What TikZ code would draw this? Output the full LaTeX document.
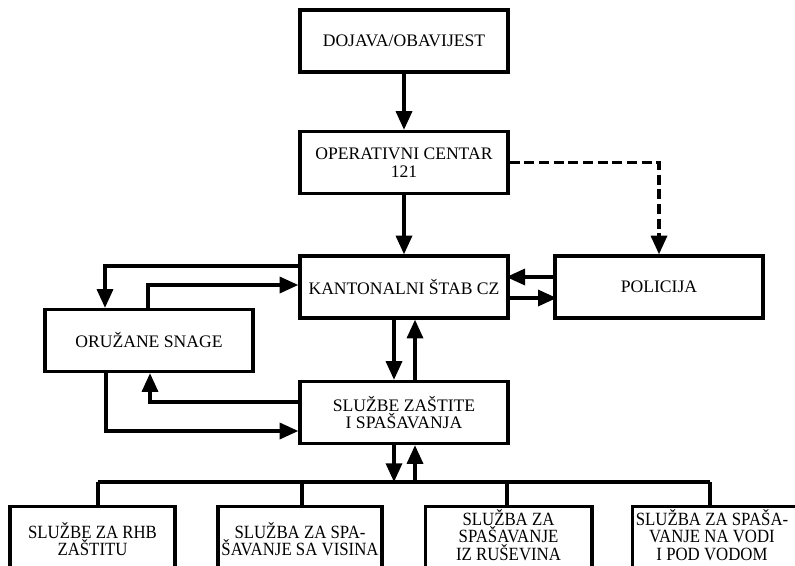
\documentclass[tikz,border=0pt]{standalone}
\usepackage{fontspec}
\setmainfont{Liberation Serif}
\newfontfamily\condserif[FakeStretch=0.9]{Liberation Serif}
\usetikzlibrary{arrows.meta,calc}
\begin{document}
\begin{tikzpicture}[x=0.75pt,y=-0.75pt,
  box/.style={draw, line width=2.5pt, minimum width=156pt, minimum height=46.5pt, inner sep=0pt, align=center, font=\fontsize{13.2}{13}\selectfont},
  bbox/.style={draw, line width=2.5pt, minimum height=75pt, inner sep=0pt, anchor=north},
  btxt/.style={inner sep=0pt, align=center, font=\condserif\fontsize{14}{13.2}\selectfont},
  ln/.style={line width=2.5pt},
  arr/.style={line width=2.5pt, -{Triangle[length=14pt,width=12pt]}},
  ]
\useasboundingbox (0,0) rectangle (795,565);
\clip (0,0) rectangle (795,565);
% main boxes
\node[box] (doj) at (404,41) {DOJAVA/OBAVIJEST};
\node[box] (op) at (404,162.5) {OPERATIVNI CENTAR\\121};
\node[box] (kant) at (404,287) {KANTONALNI ŠTAB CZ};
\node[box] (pol) at (659,287) {POLICIJA};
\node[box] (oru) at (149,340.5) {ORUŽANE SNAGE};
\node[box] (sluz) at (404,412.5) {SLUŽBE ZAŠTITE\\I SPAŠAVANJA};
% bottom boxes
\node[bbox, minimum width=123.75pt] (b1) at (92.5,505) {};
\node[bbox, minimum width=123pt] (b2) at (300,505) {};
\node[bbox, minimum width=125pt] (b3) at (508.5,505) {};
\node[bbox, minimum width=124pt] (b4) at (715,505) {};
\node[btxt] (t1) at (92.5,539) {SLUŽBE ZA RHB\\ZAŠTITU};
\node[btxt] (t2) at (300,539) {SLUŽBA ZA SPA-\\ŠAVANJE SA VISINA};
\node[btxt] (t3) at (508.5,535) {SLUŽBA ZA\\SPAŠAVANJE\\IZ RUŠEVINA};
\node[btxt] (t4) at (712,535) {SLUŽBA ZA SPAŠA-\\VANJE NA VODI\\I POD VODOM};
% vertical chain
\draw[arr] (doj) -- (op);
\draw[arr] (op) -- (kant);
\draw[arr, dash pattern=on 7.5pt off 3.5pt] (op.east) -- (op.east -| pol.north) -- (pol.north);
% kantonalni <-> policija
\draw[arr] ($(pol.west)+(0,-10)$) -- ($(kant.west)+(208,-10)$);
\draw[arr] ($(kant.east)+(0,11)$) -- ($(pol.east)+(-208,11)$);
% kantonalni <-> oruzane
\draw[arr] ($(kant.west)+(0,-21)$) -| ($(oru.north)+(-44,0)$);
\draw[arr] ($(oru.north)+(-1,0)$) |- ($(kant.west)+(0,-2)$);
% sluzbe <-> oruzane
\draw[arr] ($(sluz.west)+(0,-10.5)$) -| ($(oru.south)+(1,0)$);
\draw[arr] ($(oru.south)+(-43,0)$) |- ($(sluz.west)+(0,18.5)$);
% kantonalni <-> sluzbe
\draw[arr] ($(kant.south)+(-10,0)$) -- ($(sluz.north)+(-10,0)$);
\draw[arr] ($(sluz.north)+(11,0)$) -- ($(kant.south)+(11,0)$);
% bus
\coordinate (busL) at (98,482);
\coordinate (v2) at (302,482);
\coordinate (v3) at (507,482);
\coordinate (busR) at (710,482);
\draw[line width=2.8pt] (busL) -- (busR);
\draw[ln] (busL) -- (busL |- b1.north);
\draw[ln] (v2) -- (v2 |- b2.north);
\draw[ln] (v3) -- (v3 |- b3.north);
\draw[ln] (busR) -- (busR |- b4.north);
\coordinate (sd) at ($(sluz.south)+(-10,0)$);
\coordinate (su) at ($(sluz.south)+(11,0)$);
\draw[arr] (sd) -- (sd |- busL);
\draw[arr] (su |- busL) -- (su);
\end{tikzpicture}
\end{document}
